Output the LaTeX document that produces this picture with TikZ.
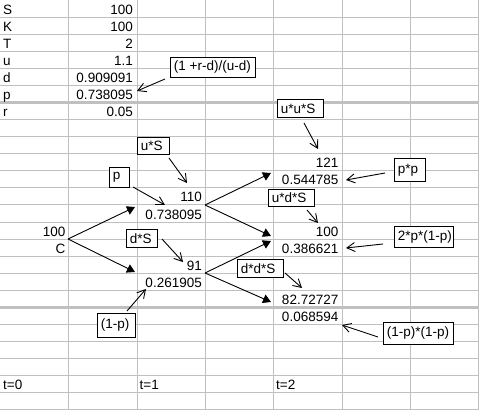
\documentclass[tikz,border=0pt]{standalone}
\usepackage{fontspec}
\setmainfont{Liberation Sans}
\usetikzlibrary{arrows.meta}
\definecolor{gridgray}{HTML}{C0C0C0}
\newcommand\cellfont{\fontsize{13.5}{15}\selectfont}
\newcommand\boxtext[2]{\makebox[#1][l]{#2}}
\begin{document}
\begin{tikzpicture}[x=1pt,y=-1pt,
 gridline/.style={draw=gridgray,line width=1pt},
 thickline/.style={draw=gridgray,line width=2.2pt},
 lab/.style={anchor=base west,inner sep=0pt,font=\cellfont},
 val/.style={anchor=base east,inner sep=0pt,font=\cellfont},
 cbox/.style={draw=black,fill=white,line width=0.9pt,anchor=north west,inner xsep=3.5pt,inner ysep=0pt,font=\cellfont},
 treearrow/.style={draw=black,line width=0.9pt,-{Triangle[length=8pt,width=9pt]}},
 callarrow/.style={draw=black,line width=0.9pt,-{Straight Barb[length=8pt,width=9pt]}}]
\useasboundingbox (0,0) rectangle (479,411);
\fill[white] (0,0) rectangle (479,411);
% grid
\foreach \k in {1,...,24}{%
  \ifnum\k=6\relax\else\ifnum\k=18\relax\else
    \draw[gridline] (0,\k*17.08) -- (478,\k*17.08);
  \fi\fi}
\draw[thickline] (0,102.5) -- (478,102.5);
\draw[thickline] (0,307.5) -- (478,307.5);
\foreach \x in {68,137,205.5,273,342,410.5,478}
  \draw[gridline] (\x,0) -- (\x,410);
% parameter table
\node[lab] (lS) at (3,14.1) {S};
\node[lab] (lK) at (3,31.2) {K};
\node[lab] (lT) at (3,48.3) {T};
\node[lab] (lu) at (3,65.3) {u};
\node[lab] (ld) at (3,82.4) {d};
\node[lab] (lp) at (3,99.5) {p};
\node[lab] (lr) at (3,116.6) {r};
\node[val] (vS) at (133,14.1) {100};
\node[val] (vK) at (133,31.2) {100};
\node[val] (vT) at (133,48.3) {2};
\node[val] (vu) at (133,65.3) {1.1};
\node[val] (vd) at (133,82.4) {0.909091};
\node[val] (vp) at (133,99.5) {0.738095};
\node[val] (vr) at (133,116.6) {0.05};
% tree values
\node[val] (c100) at (65.5,236.2) {100};
\node[val] (cC) at (65.5,253.3) {C};
\node[val] (s110) at (202,202) {110};
\node[val] (p110) at (202,219.1) {0.738095};
\node[val] (s91) at (202,270.3) {91};
\node[val] (p91) at (202,287.4) {0.261905};
\node[val] (s121) at (338.5,167.8) {121};
\node[val] (p121) at (338.5,184.9) {0.544785};
\node[val] (s100) at (338.5,236.2) {100};
\node[val] (p100) at (338.5,253.3) {0.386621};
\node[val] (s82) at (338.5,304.5) {82.72727};
\node[val] (p82) at (338.5,321.6) {0.068594};
\node[lab] (t0) at (3,389.9) {t=0};
\node[lab] (t1) at (139.5,389.9) {t=1};
\node[lab] (t2) at (276,389.9) {t=2};
% tree connectors
\coordinate (n0) at (68,239);
\coordinate (n1u) at (135,207);
\coordinate (n1d) at (135,272);
\coordinate (n110) at (205,205);
\coordinate (n91) at (205,273);
\coordinate (e121) at (271,173);
\coordinate (e100a) at (271,236);
\coordinate (e100b) at (271,241);
\coordinate (e82) at (271,302);
\draw[treearrow] (n0) -- (n1u);
\draw[treearrow] (n0) -- (n1d);
\draw[treearrow] (n110) -- (e121);
\draw[treearrow] (n110) -- (e100a);
\draw[treearrow] (n91) -- (e100b);
\draw[treearrow] (n91) -- (e82);
% callout boxes
\node[cbox,minimum height=20pt] (b1) at (170,57) {\boxtext{78pt}{(1 +r-d)/(u-d)}};
\node[cbox,minimum height=18pt] (b2) at (277,99) {\boxtext{39pt}{u*u*S}};
\node[cbox,minimum height=17pt] (b3) at (137,137) {\boxtext{25pt}{u*S}};
\node[cbox,minimum height=20pt] (b4) at (109,167) {\boxtext{13pt}{p}};
\node[cbox,minimum height=18pt] (b5) at (126,229) {\boxtext{24pt}{d*S}};
\node[cbox,minimum height=24pt] (b6) at (97,313) {\boxtext{31pt}{(1-p)}};
\node[cbox,minimum height=23pt] (b7) at (394,158) {\boxtext{24pt}{p*p}};
\node[cbox,minimum height=17pt] (b8) at (268,189) {\boxtext{39pt}{u*d*S}};
\node[cbox,minimum height=21pt] (b9) at (394,226) {\boxtext{52pt}{2*p*(1-p)}};
\node[cbox,minimum height=18pt] (b10) at (237,259) {\boxtext{39pt}{d*d*S}};
\node[cbox,minimum height=22pt] (b11) at (383,322) {\boxtext{63pt}{(1-p)*(1-p)}};
% callout arrows
\coordinate (a1s) at (165,79);  \coordinate (a1e) at (137,91);
\coordinate (a2s) at (304,123); \coordinate (a2e) at (318,149);
\coordinate (a3s) at (169,158); \coordinate (a3e) at (187,183);
\coordinate (a4s) at (133,187); \coordinate (a4e) at (165,205);
\coordinate (a5s) at (162,239); \coordinate (a5e) at (183,262);
\coordinate (a6s) at (127,311); \coordinate (a6e) at (146,289);
\coordinate (a7s) at (385,173); \coordinate (a7e) at (346,180);
\coordinate (a8s) at (307,210); \coordinate (a8e) at (318,223);
\coordinate (a9s) at (383,244); \coordinate (a9e) at (346,248);
\coordinate (a10s) at (285,273); \coordinate (a10e) at (302,288);
\coordinate (a11s) at (378,337); \coordinate (a11e) at (342,325);
\draw[callarrow] (a1s) -- (a1e);
\draw[callarrow] (a2s) -- (a2e);
\draw[callarrow] (a3s) -- (a3e);
\draw[callarrow] (a4s) -- (a4e);
\draw[callarrow] (a5s) -- (a5e);
\draw[callarrow] (a6s) -- (a6e);
\draw[callarrow] (a7s) -- (a7e);
\draw[callarrow] (a8s) -- (a8e);
\draw[callarrow] (a9s) -- (a9e);
\draw[callarrow] (a10s) -- (a10e);
\draw[callarrow] (a11s) -- (a11e);
\end{tikzpicture}
\end{document}
